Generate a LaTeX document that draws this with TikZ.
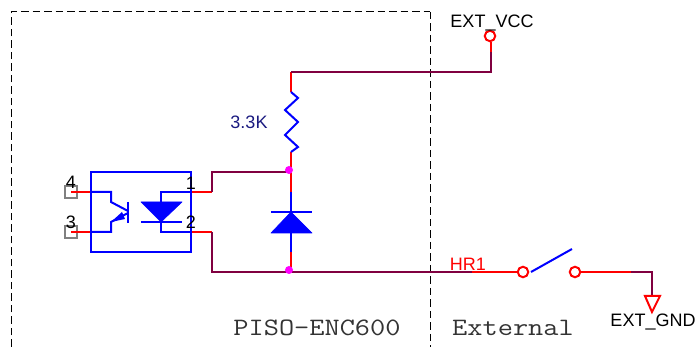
\documentclass[tikz,border=0pt]{standalone}
\usepackage{fontspec}
\setmainfont{Liberation Sans}
\definecolor{wiremaroon}{HTML}{800040}
\definecolor{partblue}{HTML}{0000FF}
\definecolor{valuenavy}{HTML}{1A1A80}
\definecolor{titlegrey}{HTML}{333333}
\definecolor{dotmagenta}{HTML}{FF00FF}
\tikzset{
  pinwire/.style={red,line width=2pt},
  netwire/.style={wiremaroon,line width=2pt},
  partline/.style={partblue,line width=2pt},
  partfill/.style={partblue,fill=partblue,line width=0.6pt,line join=round},
  boundary/.style={black,line width=1pt,dash pattern=on 7.5pt off 4pt},
  junction/.style={circle,fill=dotmagenta,inner sep=0pt,minimum size=8pt},
  terminal/.style={circle,draw=red,line width=2pt,inner sep=0pt,minimum size=10.5pt},
  pad/.style={rectangle,draw=gray,fill=white,line width=1.6pt,inner sep=0pt,minimum size=11.5pt},
  label/.style={inner sep=0pt,font=\fontsize{18}{20}\selectfont},
  title/.style={inner sep=0pt,text=titlegrey,transform shape,xscale=1.18,font=\ttfamily\fontsize{25}{28}\selectfont}
}
\begin{document}
\begin{tikzpicture}[x=1pt,y=-1pt]
      \useasboundingbox (0,0) rectangle (697,347);
      \draw
        (490,36) node[terminal] (vcc){}
        (523,272) node[terminal] (swa){}
        (575,272) node[terminal] (swb){}
        (71,192) node[pad] (pad4){}
        (71,232) node[pad] (pad3){}
        (91,172) coordinate (boxa)
        (191,252) coordinate (boxb)
        (11,347) coordinate (dashsw)
        (11,12) coordinate (dashnw)
        (430,12) coordinate (dashne)
        (430,347) coordinate (dashse)
        (491,52) coordinate (vcca)
        (491,72) coordinate (vccb)
        (291,72) coordinate (rtop)
        (291,92) coordinate (ra)
        (291,152) coordinate (rb)
        (291,172) coordinate (juna)
        (291,192) coordinate (da)
        (291,212) coordinate (db)
        (291,233) coordinate (dc)
        (291,252) coordinate (dd)
        (291,272) coordinate (junb)
        (212,172) coordinate (ua)
        (212,192) coordinate (ub)
        (212,232) coordinate (uc)
        (212,272) coordinate (ud)
        (191,192) coordinate (pin1)
        (191,232) coordinate (pin2)
        (91,192) coordinate (pin4)
        (91,232) coordinate (pin3)
        (161,192) coordinate (leda)
        (161,232) coordinate (ledb)
        (111,192) coordinate (qa)
        (111,232) coordinate (qb)
        (472,272) coordinate (hr)
        (531,272) coordinate (bladea)
        (572,249) coordinate (bladeb)
        (631,272) coordinate (gnda)
        (652,272) coordinate (gndb)
        (652,296) coordinate (gndc);
      \begin{scope}
        \draw[boundary] (dashsw) -- (dashnw) -- (dashne);
        \draw[boundary] (dashne) -- (dashse);
      \end{scope}
      \begin{scope}[pinwire]
        \draw (vcc.south -| vcca) to (vcca);
        \draw (rtop) to (ra);
        \draw (rb) to (da);
        \draw (dd) to (junb);
        \draw (ub) to (pin1);
        \draw (uc) to (pin2);
        \draw (pad4.center) to (pin4);
        \draw (pad3.center) to (pin3);
        \draw (hr) to (swa);
        \draw (swb) to (gnda);
      \end{scope}
      \begin{scope}[netwire]
        \draw (vcca) -- (vccb) -- (rtop);
        \draw (juna) -- (ua) -- (ub);
        \draw (uc) -- (ud) -- (hr);
        \draw (gnda) -- (gndb) -- (gndc);
      \end{scope}
      \begin{scope}[partline]
        \draw (boxa) rectangle (boxb);
        \draw (pin4) -- (qa) -- (111,202) -- (128,211);
        \draw (pin3) -- (qb) -- (111,222) -- (128,213);
        \draw (128,202) -- (128,223);
        \fill (111,222) -- (122,212) -- (125,219) -- cycle;
        \draw (pin1) -- (leda) -- (161,202);
        \draw (pin2) -- (ledb) -- (161,222);
        \draw (141,222) -- (182,222);
        \draw (ra) -- (298,98) -- (285,110) -- (298,122) -- (285,135) -- (298,147) -- (rb);
        \draw (da) -- (db);
        \draw (dc) -- (dd);
        \draw (271,212) -- (312,212);
        \draw (bladea) -- (bladeb);
      \end{scope}
      \draw[partfill] (141,202) -- (182,202) -- (161,222) -- cycle;
      \draw[partfill] (db) -- (312,233) -- (271,233) -- cycle;
      \draw[red,line width=2pt,line join=miter] (gndc) -- (660,296) -- (652,312) -- (645,296) -- cycle;
      \draw
        (289,170) node[junction] (dota){}
        (289,270) node[junction] (dotb){}
        (492,23) node[label] (vcclab){EXT\_VCC}
        (653,322) node[label] (gndlab){EXT\_GND}
        (249,122) node[label,text=valuenavy] (rlab){3.3K}
        (468,264) node[label,text=red] (hrlab){HR1}
        (71,182) node[label] (no4){4}
        (71,222) node[label] (no3){3}
        (191,183) node[label] (no1){1}
        (191,222) node[label] (no2){2}
        (317,328) node[title] (inlab){PISO-ENC600}
        (513,328) node[title] (outlab){External};
    \end{tikzpicture}
\end{document}
